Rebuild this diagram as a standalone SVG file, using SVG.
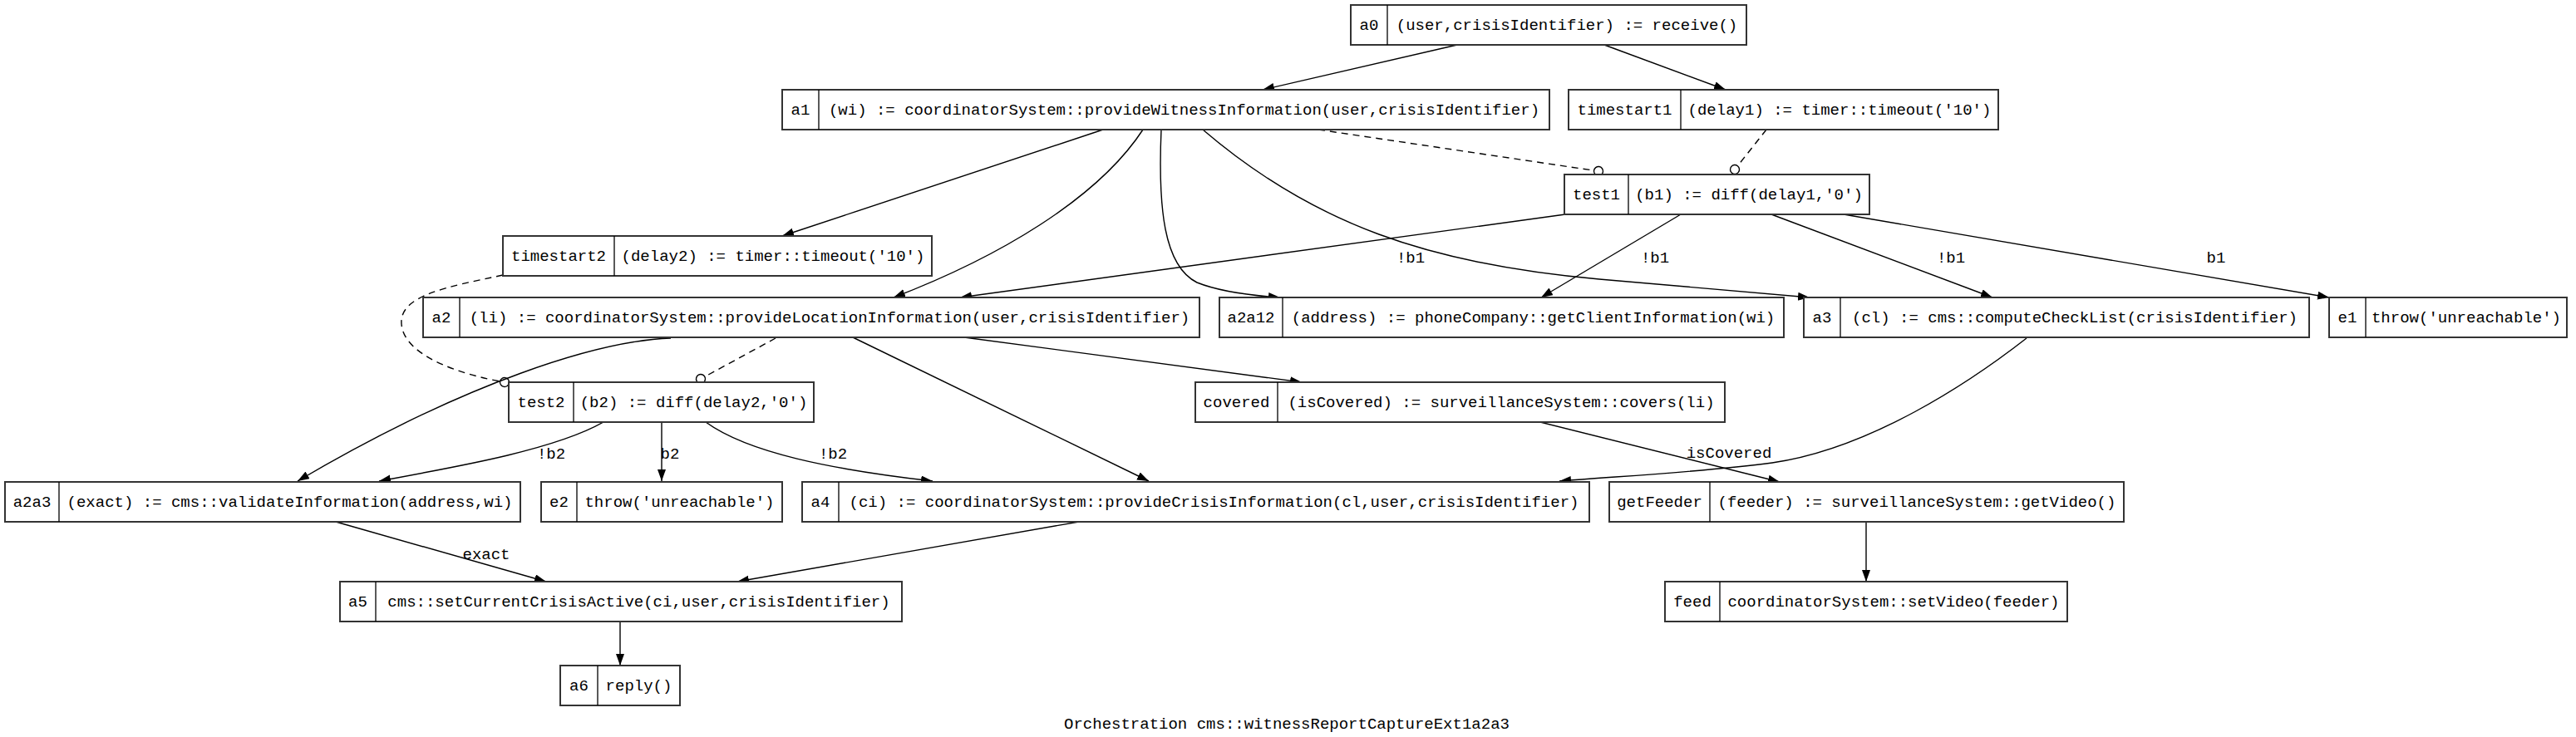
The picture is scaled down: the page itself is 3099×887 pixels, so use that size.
<svg xmlns="http://www.w3.org/2000/svg" width="3099" height="887" viewBox="0 0 3099 887">
<style>
.box{fill:#fff;stroke:#333;stroke-width:2}
.div{stroke:#000;stroke-width:1.3}
text{font-family:"Liberation Mono","DejaVu Sans Mono",monospace;font-size:19px;fill:#000;text-anchor:middle}
.e{fill:none;stroke:#000;stroke-width:1.4;marker-end:url(#arr)}
.d{fill:none;stroke:#000;stroke-width:1.4;stroke-dasharray:8,6;marker-end:url(#odot)}
</style>
<defs>
<marker id="arr" markerUnits="userSpaceOnUse" markerWidth="16" markerHeight="12" refX="14" refY="5" orient="auto"><path d="M0,0 L14,5 L0,10 z" fill="#000"/></marker>
<marker id="odot" markerUnits="userSpaceOnUse" markerWidth="16" markerHeight="16" refX="8" refY="8" orient="auto"><circle cx="8" cy="8" r="5.5" fill="#fff" stroke="#000" stroke-width="1.4"/></marker>
</defs>
<rect width="3099" height="887" fill="#fff"/>
<g id="connectors">
<path class="e" d="M1753,54 L1519,108"/>
<path class="e" d="M1930,54 L2076,108"/>
<path class="e" d="M1327,156 L941,284"/>
<path class="e" d="M1375,156 C1320,240 1200,310 1075,358"/>
<path class="e" d="M1397,156 C1393,250 1400,320 1440,340 C1470,352 1510,356 1540,358"/>
<path class="e" d="M1447,156 C1580,270 1720,318 1924,336 C2030,345 2110,352 2177,358"/>
<path class="d" d="M1586,156 L1923,206"/>
<path class="d" d="M2125,156 L2087,204"/>
<path class="e" d="M1883,258 L1155,358"/>
<path class="e" d="M2022,258 L1854,358"/>
<path class="e" d="M2131,258 L2397,358"/>
<path class="e" d="M2218,258 L2802,358"/>
<path class="d" d="M605,331 C540,345 480,355 483,390 C486,430 560,452 607,460"/>
<path class="d" d="M933,407 L843,456"/>
<path class="e" d="M807,407 C720,410 560,460 358,579"/>
<path class="e" d="M726,508 C670,540 560,560 456,579"/>
<path class="e" d="M796,508 L796,579"/>
<path class="e" d="M849,508 C900,545 1000,565 1122,579"/>
<path class="e" d="M1026,406 L1382,579"/>
<path class="e" d="M1160,406 L1566,460"/>
<path class="e" d="M2438,407 C2370,460 2250,540 2132,557 C2050,568 1950,573 1876,579"/>
<path class="e" d="M1853,508 L2141,580"/>
<path class="e" d="M2245,628 L2245,700"/>
<path class="e" d="M404,628 L657,700"/>
<path class="e" d="M1298,628 L887,700"/>
<path class="e" d="M746,748 L746,801"/>
<text x="1697" y="316">!b1</text>
<text x="1991" y="316">!b1</text>
<text x="2347" y="316">!b1</text>
<text x="2666" y="316">b1</text>
<text x="663" y="552">!b2</text>
<text x="806" y="552">b2</text>
<text x="1002" y="552">!b2</text>
<text x="2080" y="551">isCovered</text>
<text x="585" y="673">exact</text>
</g>
<g id="a0"><rect class="box" x="1625" y="6" width="476" height="48"/><line class="div" x1="1669" y1="6" x2="1669" y2="54"/><text x="1647" y="36">a0</text><text x="1885" y="36">(user,crisisIdentifier) := receive()</text></g>
<g id="a1"><rect class="box" x="941" y="108" width="923" height="48"/><line class="div" x1="985" y1="108" x2="985" y2="156"/><text x="963" y="138">a1</text><text x="1424.5" y="138">(wi) := coordinatorSystem::provideWitnessInformation(user,crisisIdentifier)</text></g>
<g id="timestart1"><rect class="box" x="1887" y="108" width="517" height="48"/><line class="div" x1="2022" y1="108" x2="2022" y2="156"/><text x="1954.5" y="138">timestart1</text><text x="2213" y="138">(delay1) := timer::timeout('10')</text></g>
<g id="test1"><rect class="box" x="1882" y="210" width="367" height="48"/><line class="div" x1="1959" y1="210" x2="1959" y2="258"/><text x="1920.5" y="240">test1</text><text x="2104" y="240">(b1) := diff(delay1,'0')</text></g>
<g id="timestart2"><rect class="box" x="605" y="284" width="516" height="48"/><line class="div" x1="739" y1="284" x2="739" y2="332"/><text x="672" y="314">timestart2</text><text x="930" y="314">(delay2) := timer::timeout('10')</text></g>
<g id="a2"><rect class="box" x="509" y="358" width="934" height="48"/><line class="div" x1="553" y1="358" x2="553" y2="406"/><text x="531" y="388">a2</text><text x="998" y="388">(li) := coordinatorSystem::provideLocationInformation(user,crisisIdentifier)</text></g>
<g id="a2a12"><rect class="box" x="1467" y="358" width="679" height="48"/><line class="div" x1="1543" y1="358" x2="1543" y2="406"/><text x="1505" y="388">a2a12</text><text x="1844.5" y="388">(address) := phoneCompany::getClientInformation(wi)</text></g>
<g id="a3"><rect class="box" x="2170" y="358" width="608" height="48"/><line class="div" x1="2214" y1="358" x2="2214" y2="406"/><text x="2192" y="388">a3</text><text x="2496" y="388">(cl) := cms::computeCheckList(crisisIdentifier)</text></g>
<g id="e1"><rect class="box" x="2802" y="358" width="286" height="48"/><line class="div" x1="2846" y1="358" x2="2846" y2="406"/><text x="2824" y="388">e1</text><text x="2967" y="388">throw('unreachable')</text></g>
<g id="test2"><rect class="box" x="612" y="460" width="367" height="48"/><line class="div" x1="690" y1="460" x2="690" y2="508"/><text x="651" y="490">test2</text><text x="834.5" y="490">(b2) := diff(delay2,'0')</text></g>
<g id="covered"><rect class="box" x="1438" y="460" width="637" height="48"/><line class="div" x1="1537" y1="460" x2="1537" y2="508"/><text x="1487.5" y="490">covered</text><text x="1806" y="490">(isCovered) := surveillanceSystem::covers(li)</text></g>
<g id="a2a3"><rect class="box" x="6" y="580" width="620" height="48"/><line class="div" x1="71" y1="580" x2="71" y2="628"/><text x="38.5" y="610">a2a3</text><text x="348.5" y="610">(exact) := cms::validateInformation(address,wi)</text></g>
<g id="e2"><rect class="box" x="651" y="580" width="290" height="48"/><line class="div" x1="694" y1="580" x2="694" y2="628"/><text x="672.5" y="610">e2</text><text x="817.5" y="610">throw('unreachable')</text></g>
<g id="a4"><rect class="box" x="965" y="580" width="947" height="48"/><line class="div" x1="1009" y1="580" x2="1009" y2="628"/><text x="987" y="610">a4</text><text x="1460.5" y="610">(ci) := coordinatorSystem::provideCrisisInformation(cl,user,crisisIdentifier)</text></g>
<g id="getFeeder"><rect class="box" x="1936" y="580" width="619" height="48"/><line class="div" x1="2057" y1="580" x2="2057" y2="628"/><text x="1996.5" y="610">getFeeder</text><text x="2306" y="610">(feeder) := surveillanceSystem::getVideo()</text></g>
<g id="a5"><rect class="box" x="409" y="700" width="676" height="48"/><line class="div" x1="452" y1="700" x2="452" y2="748"/><text x="430.5" y="730">a5</text><text x="768.5" y="730">cms::setCurrentCrisisActive(ci,user,crisisIdentifier)</text></g>
<g id="feed"><rect class="box" x="2003" y="700" width="484" height="48"/><line class="div" x1="2069" y1="700" x2="2069" y2="748"/><text x="2036" y="730">feed</text><text x="2278" y="730">coordinatorSystem::setVideo(feeder)</text></g>
<g id="a6"><rect class="box" x="674" y="801" width="144" height="48"/><line class="div" x1="719" y1="801" x2="719" y2="849"/><text x="696.5" y="831">a6</text><text x="768.5" y="831">reply()</text></g>
<text x="1548" y="877">Orchestration cms::witnessReportCaptureExt1a2a3</text>
</svg>
